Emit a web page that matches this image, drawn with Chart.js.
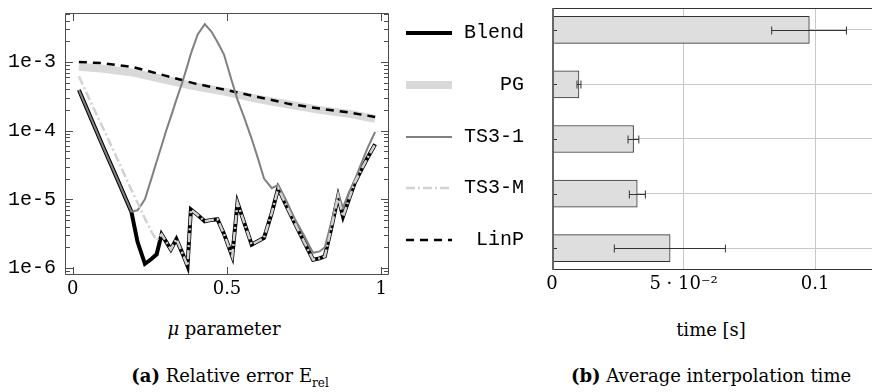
<!DOCTYPE html>
<html>
  <head>
    <meta charset="utf-8">
    <script src="https://cdn.jsdelivr.net/npm/chart.js@4.4.1/dist/chart.umd.min.js"></script>
    <style>
      body { margin: 0; width: 872px; height: 392px; overflow: hidden; background: #fff; position: relative; }
      canvas { position: absolute; top: 0; }
      .txt { position: absolute; font-family: "DejaVu Serif", serif; font-size: 18px; color: #000; text-align: center; white-space: nowrap; line-height: 24px; }
      .legrow { position: absolute; left: 400px; width: 124px; height: 24px; }
      .legrow svg { position: absolute; left: 6px; top: 7px; }
      .legrow span { position: absolute; right: 0; top: 0; font-family: "Liberation Mono", monospace; font-size: 20px; line-height: 24px; color: #000; }
    </style>
  </head>
  <body>
    <canvas id="errChart" width="400" height="310" style="left:0"></canvas>
    <canvas id="timeChart" width="360" height="310" style="left:520px"></canvas>
    <div id="legend"></div>
    <div class="txt" style="left:124px; top:317px; width:200px"><i>μ</i> parameter</div>
    <div class="txt" style="left:611px; top:318px; width:200px">time [s]</div>
    <div class="txt" style="left:80px; top:364px; width:300px"><b>(a)</b> Relative error E<sub style="font-size:12px">rel</sub></div>
    <div class="txt" style="left:561px; top:364px; width:300px"><b>(b)</b> Average interpolation time</div>
    <script>
      // relative error vs mu
      const mu = [0.02, 0.06, 0.10, 0.14, 0.19, 0.21, 0.234, 0.255, 0.272, 0.288, 0.303, 0.318, 0.336, 0.355, 0.372,
        0.383, 0.405, 0.428, 0.45, 0.469, 0.49, 0.517, 0.534, 0.555, 0.58, 0.60, 0.62, 0.645, 0.666, 0.69, 0.719,
        0.75, 0.779, 0.80, 0.817, 0.84, 0.86, 0.876, 0.895, 0.914, 0.935, 0.955, 0.98];
      const errBlend = [3.89e-4, 1.48e-4, 5.62e-5, 2.19e-5, 6.61e-6, 2.40e-6, 1.15e-6, 1.35e-6, 1.58e-6, 3.09e-6,
        2.40e-6, 1.86e-6, 2.63e-6, 1.66e-6, 1.07e-6, 7.08e-6, 5.89e-6, 4.79e-6, 5.01e-6, 5.13e-6, 3.16e-6, 1.48e-6,
        8.91e-6, 4.68e-6, 2.19e-6, 2.45e-6, 2.75e-6, 6.31e-6, 1.45e-5, 8.51e-6, 4.57e-6, 2.40e-6, 1.32e-6, 1.38e-6,
        1.48e-6, 4.17e-6, 1.10e-5, 5.62e-6, 1.00e-5, 1.74e-5, 2.69e-5, 3.98e-5, 6.31e-5];
      const errTS31 = [3.89e-4, 1.48e-4, 5.62e-5, 2.19e-5, 6.61e-6, 6.92e-6, 1.00e-5, 2.00e-5, 3.55e-5, 6.03e-5,
        1.00e-4, 1.58e-4, 2.82e-4, 5.01e-4, 8.91e-4, 1.32e-3, 2.51e-3, 3.55e-3, 2.75e-3, 1.95e-3, 1.29e-3, 5.01e-4,
        2.82e-4, 1.58e-4, 7.59e-5, 3.98e-5, 2.00e-5, 1.45e-5, 1.62e-5, 1.00e-5, 5.25e-6, 2.95e-6, 1.66e-6, 1.74e-6,
        2.00e-6, 5.01e-6, 1.23e-5, 7.59e-6, 1.26e-5, 1.91e-5, 3.31e-5, 5.50e-5, 9.55e-5];
      const errTS3M = [6.17e-4, 2.51e-4, 1.05e-4, 4.27e-5, 1.38e-5, 8.91e-6, 5.25e-6, 3.39e-6, 2.51e-6, 3.09e-6,
        2.40e-6, 1.86e-6, 2.63e-6, 1.66e-6, 1.07e-6, 7.08e-6, 5.89e-6, 4.79e-6, 5.01e-6, 5.13e-6, 3.16e-6, 1.48e-6,
        8.91e-6, 4.68e-6, 2.19e-6, 2.45e-6, 2.75e-6, 6.31e-6, 1.45e-5, 8.51e-6, 4.57e-6, 2.40e-6, 1.32e-6, 1.38e-6,
        1.48e-6, 4.17e-6, 1.10e-5, 5.62e-6, 1.00e-5, 1.74e-5, 2.69e-5, 3.98e-5, 6.31e-5];
      const muSmooth = [0.02, 0.1, 0.2, 0.3, 0.4, 0.5, 0.6, 0.7, 0.8, 0.9, 0.98];
      const errPG = [8.51e-4, 7.94e-4, 6.92e-4, 5.50e-4, 4.37e-4, 3.63e-4, 2.88e-4, 2.40e-4, 2.00e-4, 1.74e-4, 1.48e-4];
      const errLinP = [1.00e-3, 9.55e-4, 8.32e-4, 6.31e-4, 4.79e-4, 3.89e-4, 3.09e-4, 2.45e-4, 2.09e-4, 1.82e-4, 1.58e-4];

      const muTicks = [0, 0.5, 1];
      const muTickLabels = ['0', '0.5', '1'];
      const errTicks = [1e-6, 1e-5, 1e-4, 1e-3];
      const errTickLabels = ['1e-6', '1e-5', '1e-4', '1e-3'];

      // average interpolation time
      const methods = ['Blend', 'PG', 'TS3-1', 'TS3-M', 'LinP'];
      const avgTime = [0.0978, 0.01025, 0.0310, 0.0324, 0.0449];
      const timeLow = [0.0835, 0.0095, 0.0289, 0.0294, 0.0237];
      const timeHigh = [0.1119, 0.0110, 0.0330, 0.0355, 0.0659];
      const timeTicks = [0, 0.05, 0.1];
      const timeTickLabels = ['0', '5 · 10⁻²', '0.1'];

      const styles = {
        'Blend': { color: '#000000', width: 4, dash: [] },
        'PG': { color: '#d9d9d9', width: 8, dash: [] },
        'TS3-1': { color: '#808080', width: 2, dash: [] },
        'TS3-M': { color: '#d2d2d2', width: 2.5, dash: [9, 3, 2, 3] },
        'LinP': { color: '#000000', width: 2.5, dash: [8, 6] }
      };
      const rowY = [33, 85, 137, 188, 240];

      // legend between the two plots
      const legend = document.getElementById('legend');
      methods.forEach(function(m, i) {
        const s = styles[m];
        const row = document.createElement('div');
        row.className = 'legrow';
        row.style.top = (rowY[i] - 12) + 'px';
        row.innerHTML = '<svg width="46" height="10"><line x1="0" y1="5" x2="46" y2="5" stroke="' + s.color +
          '" stroke-width="' + s.width + '" stroke-dasharray="' + (s.dash.length ? s.dash.join(' ') : 'none') +
          '"/></svg><span>' + m + '</span>';
        legend.appendChild(row);
      });

      const serifFont = { family: 'DejaVu Serif', size: 18 };
      const monoFont = { family: 'Liberation Mono', size: 20 };

      function series(name, xs, ys, order) {
        const s = styles[name];
        return {
          label: name,
          data: xs.map((x, i) => ({ x: x, y: ys[i] })),
          borderColor: s.color,
          borderWidth: s.width,
          borderDash: s.dash,
          pointRadius: 0,
          tension: 0,
          fill: false,
          order: order
        };
      }

      // keep the plot box exactly where the layout puts it
      function noPad(s) {
        s.paddingTop = 0; s.paddingBottom = 0; s.paddingLeft = 0; s.paddingRight = 0;
      }

      // pgfplots-like frame with inward ticks
      const frameTicks = {
        id: 'frameTicks',
        afterDatasetsDraw(chart) {
          const { ctx, chartArea: a, scales } = chart;
          ctx.save();
          ctx.strokeStyle = '#4d4d4d';
          ctx.lineWidth = 1;
          ctx.beginPath();
          scales.y.ticks.forEach(function(t) {
            const y = Math.round(scales.y.getPixelForValue(t.value)) + 0.5;
            if (y < a.top || y > a.bottom) return;
            const len = t.major ? 8 : 5;
            ctx.moveTo(a.left, y); ctx.lineTo(a.left + len, y);
            ctx.moveTo(a.right, y); ctx.lineTo(a.right - len, y);
          });
          scales.x.ticks.forEach(function(t) {
            const x = Math.round(scales.x.getPixelForValue(t.value)) + 0.5;
            ctx.moveTo(x, a.bottom); ctx.lineTo(x, a.bottom - 8);
            ctx.moveTo(x, a.top); ctx.lineTo(x, a.top + 8);
          });
          ctx.rect(Math.round(a.left) + 0.5, Math.round(a.top) + 0.5, Math.round(a.width) - 1, Math.round(a.height) - 1);
          ctx.stroke();
          ctx.restore();
        }
      };

      new Chart(document.getElementById('errChart'), {
        type: 'line',
        data: {
          datasets: [
            series('TS3-M', mu, errTS3M, 0),
            series('TS3-1', mu, errTS31, 1),
            series('Blend', mu, errBlend, 2),
            series('LinP', muSmooth, errLinP, 3),
            series('PG', muSmooth, errPG, 4)
          ]
        },
        options: {
          responsive: false,
          animation: false,
          layout: { padding: { top: 13, right: 11, left: 0, bottom: 0 } },
          plugins: { legend: { display: false }, tooltip: { enabled: false } },
          scales: {
            x: {
              type: 'linear', min: -0.025, max: 1.025,
              afterBuildTicks: s => { s.ticks = muTicks.map(v => ({ value: v })); },
              afterFit: s => { s.height = 35; noPad(s); },
              grid: { display: false, drawTicks: false },
              border: { display: false },
              ticks: { callback: (v, i) => muTickLabels[i], font: serifFont, color: '#000', padding: 4, maxRotation: 0, autoSkip: false }
            },
            y: {
              type: 'logarithmic', min: 7.9e-7, max: 5.15e-3,
              afterBuildTicks: s => {
                const t = [];
                for (let k = -7; k <= -3; k++) {
                  for (let m = 1; m <= 9; m++) {
                    const v = Number((m * Math.pow(10, k)).toPrecision(3));
                    if (v >= s.min && v <= s.max) t.push({ value: v, major: m === 1 });
                  }
                }
                s.ticks = t;
              },
              afterFit: s => { s.width = 65; noPad(s); },
              grid: { display: false, drawTicks: false },
              border: { display: false },
              ticks: {
                callback: function(v) {
                  const k = errTicks.findIndex(t => Math.abs(t - v) / t < 1e-6);
                  return k >= 0 ? errTickLabels[k] : '';
                },
                font: monoFont, color: '#000', padding: 9, autoSkip: false
              }
            }
          }
        },
        plugins: [frameTicks]
      });

      const errorBars = {
        id: 'errorBars',
        afterDatasetsDraw(chart) {
          const { ctx, scales } = chart;
          ctx.save();
          ctx.strokeStyle = '#333';
          ctx.lineWidth = 1;
          ctx.beginPath();
          methods.forEach(function(m, i) {
            const y = Math.round(scales.y.getPixelForValue(i)) + 0.5;
            const x0 = scales.x.getPixelForValue(timeLow[i]);
            const x1 = scales.x.getPixelForValue(timeHigh[i]);
            ctx.moveTo(x0, y); ctx.lineTo(x1, y);
            ctx.moveTo(x0, y - 4); ctx.lineTo(x0, y + 4);
            ctx.moveTo(x1, y - 4); ctx.lineTo(x1, y + 4);
          });
          ctx.stroke();
          ctx.restore();
        }
      };

      const frameBox = {
        id: 'frameBox',
        afterDatasetsDraw(chart) {
          const { ctx, chartArea: a, scales } = chart;
          ctx.save();
          ctx.strokeStyle = '#333';
          ctx.lineWidth = 1;
          ctx.beginPath();
          ctx.rect(Math.round(a.left) + 0.5, Math.round(a.top) + 0.5, Math.round(a.width) - 1, Math.round(a.height) - 1);
          methods.forEach(function(m, i) {
            const y = Math.round(scales.y.getPixelForValue(i)) + 0.5;
            ctx.moveTo(a.left, y); ctx.lineTo(a.left + 5, y);
          });
          ctx.stroke();
          ctx.strokeStyle = '#666';
          ctx.lineWidth = 2;
          ctx.beginPath();
          ctx.moveTo(Math.round(a.left) + 1, a.top);
          ctx.lineTo(Math.round(a.left) + 1, a.bottom);
          ctx.stroke();
          ctx.restore();
        }
      };

      new Chart(document.getElementById('timeChart'), {
        type: 'bar',
        data: {
          datasets: [{
            data: avgTime.map((v, i) => ({ x: v, y: i })),
            backgroundColor: '#dedede',
            borderColor: '#333',
            borderWidth: 1,
            borderSkipped: false,
            barThickness: 27
          }]
        },
        options: {
          indexAxis: 'y',
          responsive: false,
          animation: false,
          layout: { padding: { top: 8, right: 7, left: 0, bottom: 0 } },
          plugins: { legend: { display: false }, tooltip: { enabled: false } },
          scales: {
            x: {
              type: 'linear', min: 0, max: 0.122,
              afterBuildTicks: s => { s.ticks = timeTicks.map(v => ({ value: v })); },
              afterFit: s => { s.height = 40; noPad(s); },
              grid: { color: '#c8c8c8', drawTicks: false },
              border: { display: false },
              ticks: { callback: (v, i) => timeTickLabels[i], font: serifFont, color: '#000', padding: 4, maxRotation: 0, autoSkip: false }
            },
            y: {
              type: 'linear', reverse: true, min: -0.4, max: 4.4, offset: false,
              afterBuildTicks: s => { s.ticks = methods.map((m, i) => ({ value: i })); },
              afterFit: s => { s.width = 32; noPad(s); },
              grid: { color: '#c8c8c8', drawTicks: false, offset: false },
              border: { display: false },
              ticks: { display: false }
            }
          }
        },
        plugins: [errorBars, frameBox]
      });
    </script>
  </body>
</html>
